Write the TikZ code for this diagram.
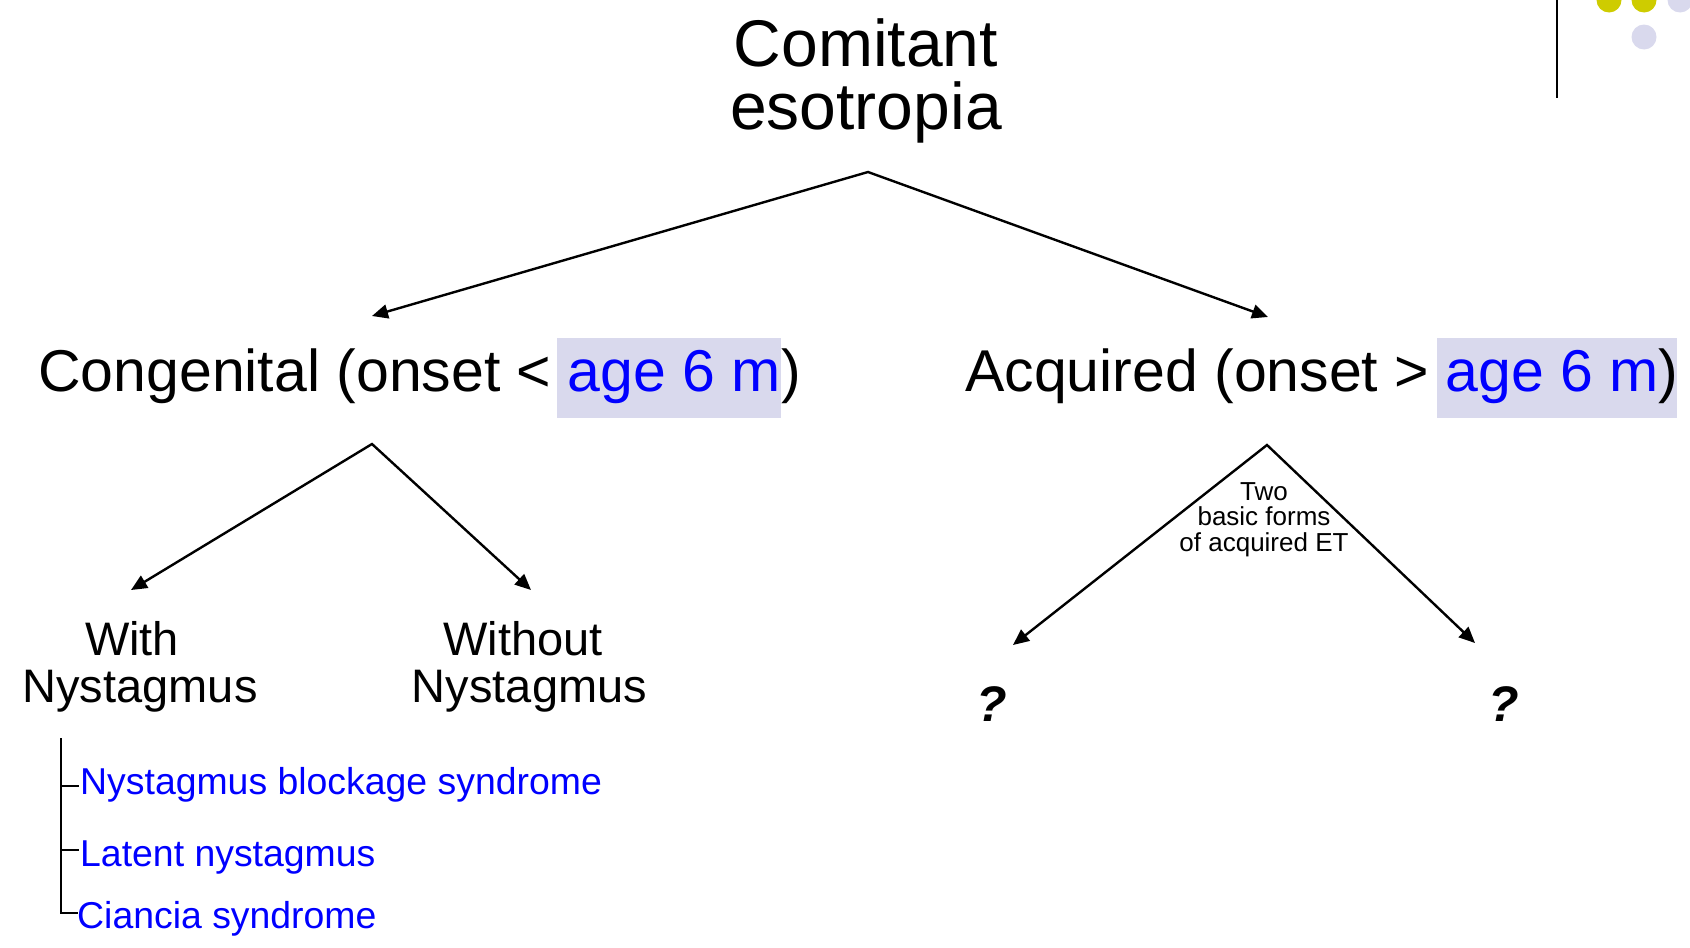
\documentclass[tikz,border=0pt]{standalone}
\usepackage{fontspec}
\setmainfont{Liberation Sans}
\usetikzlibrary{arrows.meta}
\definecolor{hilite}{RGB}{217,217,237}
\definecolor{dotolive}{RGB}{206,204,0}
\definecolor{linkblue}{RGB}{0,0,255}
\newcommand\setfs[1]{\fontsize{#1}{#1}\selectfont}

\begin{document}
\begin{tikzpicture}[x=1pt,y=-1pt,
  txt/.style={inner sep=0pt, anchor=base},
  txtw/.style={inner sep=0pt, anchor=base west},
  fork/.style={line width=2.4pt, arrows={Triangle[length=16pt,width=14pt]-Triangle[length=16pt,width=14pt]}, line join=miter},
  brk/.style={line width=2.2pt},
  big/.style={font=\setfs{66}},
  mid/.style={font=\setfs{59}},
  sub/.style={font=\setfs{47}},
  note/.style={font=\setfs{26}},
  item/.style={font=\setfs{37.4}, text=linkblue},
  ask/.style={font=\setfs{50}\bfseries\itshape}]
\useasboundingbox (0,0) rectangle (1690,948);
\clip (0,0) rectangle (1690,948);

% corner ornament
\draw[line width=2.2pt] (1557,0) -- (1557,98);
\fill[dotolive] (1609,0) circle[radius=12.5pt];
\fill[dotolive] (1644,0) circle[radius=12.5pt];
\fill[hilite] (1680,0) circle[radius=12.5pt];
\fill[hilite] (1644,37) circle[radius=12.5pt];

% highlight behind the age limits
\fill[hilite] (557,338) rectangle (781,418);
\fill[hilite] (1437,338) rectangle (1677,418);

% title
\node[txt, big] (t1) at (866,66) {Comitant};
\node[txt, big] (t2) at (866,129) {esotropia};

% first split
\node[txtw, mid] (cong) at (38,391) {Congenital (onset < \textcolor{linkblue}{age 6 m})};
\node[txtw, mid] (acq) at (965,391) {Acquired (onset > \textcolor{linkblue}{age 6 m})};

\coordinate (topfork) at (868,172);
\coordinate (congtip) at (372,316);
\coordinate (acqtip) at (1268,317);
\draw[fork] (congtip) -- (topfork) -- (acqtip);

% congenital branches
\coordinate (congfork) at (372,444);
\coordinate (withtip) at (131,590);
\coordinate (withouttip) at (531,590);
\draw[fork] (withtip) -- (congfork) -- (withouttip);

\node[txt, sub] (with1) at (132,655) {With};
\node[txt, sub] (with2) at (140,702) {Nystagmus};
\node[txt, sub] (wo1) at (523,655) {Without};
\node[txt, sub] (wo2) at (529.5,702) {Nystagmus};

% acquired branches
\coordinate (acqfork) at (1267,445);
\coordinate (q1tip) at (1013,645);
\coordinate (q2tip) at (1475,643);
\draw[fork] (q1tip) -- (acqfork) -- (q2tip);

\node[txt, note] (two1) at (1264,500) {Two};
\node[txt, note] (two2) at (1264,525) {basic forms};
\node[txt, note] (two3) at (1264,551) {of acquired ET};

\node[txt, ask] (q1) at (992,721) {?};
\node[txt, ask] (q2) at (1504,721) {?};

% nystagmus syndromes
\node[txtw, item] (nbs) at (80,794) {Nystagmus blockage syndrome};
\node[txtw, item] (lat) at (80,866) {Latent nystagmus};
\node[txtw, item] (cia) at (77,928) {Ciancia syndrome};

\coordinate (brtop) at (61,738);
\coordinate (brbot) at (61,913);
\draw[brk] (brtop) -- (brbot) -- (78,913);
\draw[brk] (61,786) -- (79,786);
\draw[brk] (61,850) -- (79,850);
\end{tikzpicture}
\end{document}
